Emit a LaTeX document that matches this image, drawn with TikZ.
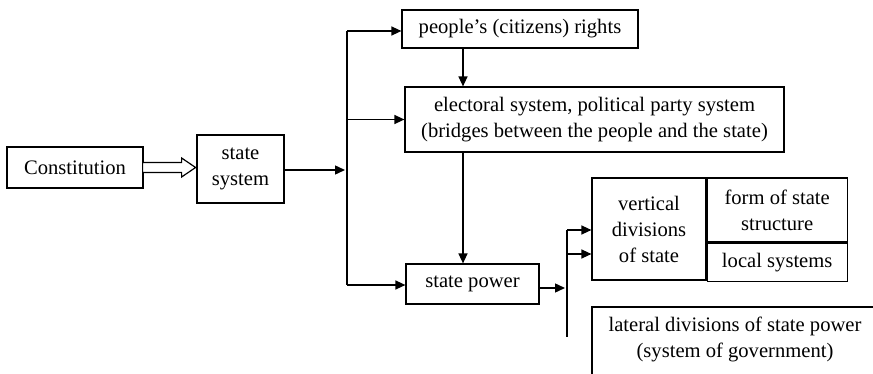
\documentclass[tikz,border=0pt]{standalone}
\usepackage{fontspec}
\setmainfont{Liberation Serif}
\usetikzlibrary{arrows.meta}

\begin{document}
\begin{tikzpicture}[x=0.5pt,y=-0.5pt,
    box/.style={draw,line width=0.6pt,align=center,inner sep=0pt,font=\fontsize{10.3}{13}\selectfont},
    txt/.style={align=center,inner sep=0pt,font=\fontsize{10.3}{13}\selectfont},
    arr/.style={line width=0.7pt,-{Triangle[length=5pt,width=4.5pt]}}]
    \clip (0,0) rectangle (873,374);
    \node[box,minimum width=68pt,minimum height=20.5pt] (const) at (75,167.5) {Constitution};
    \node[box,minimum width=43.5pt,minimum height=34pt] (sys) at (240.5,169) {state\\system};
    \node[box,minimum width=118pt,minimum height=19pt] (rights) at (520,29) {people’s (citizens) rights};
    \node[box,minimum width=189.5pt,minimum height=32.5pt] (elect) at (594.5,119.5) {electoral system, political party system\\(bridges between the people and the state)};
    \node[box,minimum width=66.5pt,minimum height=20pt] (power) at (472.5,284) {state power};
    \node[box,minimum width=57pt,minimum height=51pt] (vert) at (649,229) {vertical\\divisions\\of state};
    \node[box,minimum width=70pt,minimum height=32pt,anchor=north west] (form) at (vert.north east) {form of state\\structure};
    \node[box,minimum width=70pt,minimum height=19pt,anchor=north west] (local) at (form.south west) {local systems};
    \node[txt] (lateral) at (735,339) {lateral divisions of state power\\(system of government)};
    \draw[line width=0.6pt] (592,380) |- (880,307);
    \draw[line width=0.6pt,fill=white] (const.east) ++(-1,-5) -- ++(39,0) -- ++(0,-4.5)
        -- ++(14,9.5) -- ++(-14,9.5) -- ++(0,-4.5) -- ++(-39,0) -- cycle;
    \coordinate (t1top) at (347,31);
    \coordinate (t1bot) at (347,285);
    \coordinate (t2top) at (567,230);
    \coordinate (t2bot) at (567,337);
    \coordinate (col) at (463,0);
    \draw[line width=0.7pt] (t1top) -- (t1bot);
    \draw[arr] (sys.east |- 0,170) -- (345,170);
    \draw[arr] (t1top) -- (rights.west |- t1top);
    \draw[arr] (t1top |- elect.west) -- (elect.west);
    \draw[arr] (t1bot) -- (power.west |- t1bot);
    \draw[arr] (rights.south -| col) -- (elect.north -| col);
    \draw[arr] (elect.south -| col) -- (power.north -| col);
    \draw[line width=0.7pt] (t2top) -- (t2bot);
    \draw[arr] (power.east |- 0,288) -- (565,288);
    \draw[arr] (t2top) -- (vert.west |- t2top);
    \draw[arr] (567,254) -- (vert.west |- 0,254);
\end{tikzpicture}
\end{document}
